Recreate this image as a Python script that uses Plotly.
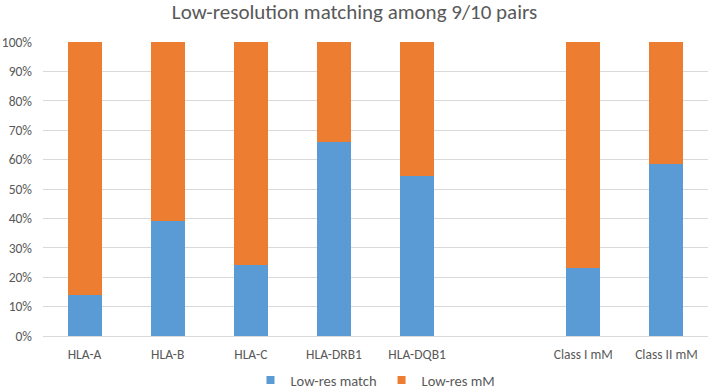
import plotly.graph_objects as go

categories = ["HLA-A", "HLA-B", "HLA-C", "HLA-DRB1", "HLA-DQB1", " ", "Class I mM", "Class II mM"]
match_pct = [14, 39, 24, 66, 54.5, None, 23, 58.5]
mm_pct = [86, 61, 76, 34, 45.5, None, 77, 41.5]
series_names = ["Low-res match", "Low-res mM"]
series_colors = ["#5B9BD5", "#ED7D31"]

font_family = "Carlito, Calibri, Lato, sans-serif"
grey = "#595959"

fig = go.Figure()
for vals, name, col in zip([match_pct, mm_pct], series_names, series_colors):
    fig.add_trace(go.Bar(x=categories, y=vals, name=name, showlegend=False,
                         marker=dict(color=col, line=dict(width=0)), width=0.41))
# legend entries with small square markers
for name, col in zip(series_names, series_colors):
    fig.add_trace(go.Scatter(x=[categories[0]], y=[None], mode="markers", name=name,
                             marker=dict(symbol="square", size=8, color=col)))

fig.update_layout(
    barmode="stack",
    width=709, height=391,
    margin=dict(l=43, r=1, t=42, b=55, autoexpand=False),
    plot_bgcolor="white", paper_bgcolor="white",
    font=dict(family=font_family, color=grey, size=13.5),
    title=dict(text="Low-resolution matching among 9/10 pairs", x=0.5, xanchor="center",
               yref="container", y=0.969, yanchor="middle",
               font=dict(size=21, color=grey, family=font_family)),
    legend=dict(orientation="h", x=0.5, xanchor="center", yref="container",
                y=0.028, yanchor="middle",
                font=dict(size=14.5, color=grey), traceorder="normal", itemwidth=30),
    bargap=0.59,
)
fig.update_xaxes(type="category", categoryorder="array", categoryarray=categories,
                 showgrid=False, showline=True, linecolor="#d9d9d9", linewidth=1,
                 ticks="", ticklabelstandoff=6, tickfont=dict(size=13.5, color=grey))
fig.update_yaxes(range=[0, 100], tickvals=list(range(0, 101, 10)),
                 ticktext=[f"{v}%" for v in range(0, 101, 10)],
                 showgrid=True, gridcolor="#d9d9d9", gridwidth=1, zeroline=False,
                 showline=False, ticks="", ticklabelstandoff=10,
                 tickfont=dict(size=13.5, color=grey))

fig.write_html("out.html")
